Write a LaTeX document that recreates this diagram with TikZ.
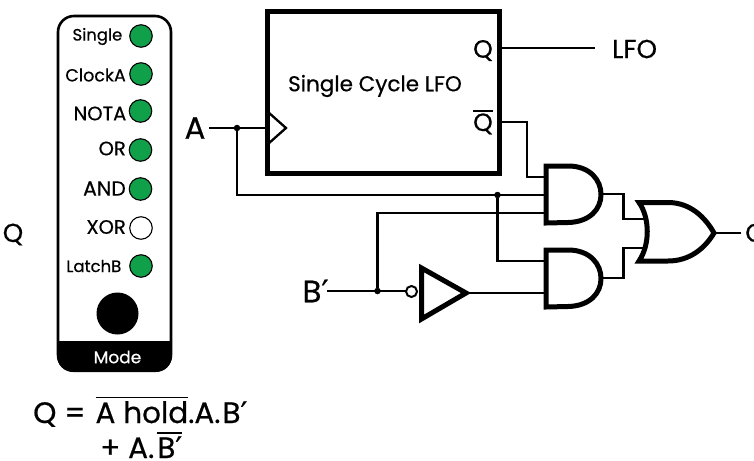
\documentclass[tikz,border=0pt]{standalone}
\usepackage{fontspec}
\setmainfont{Poppins}[FakeBold=0.5]
\newfontfamily\primefont{DejaVu Sans}[FakeBold=0.8]
\newcommand{\prm}{{\primefont ′}}
\newcommand{\fsz}[1]{\fontsize{#1}{#1}\selectfont}
\newcommand{\barred}[2][0pt]{\leavevmode\vbox{\hrule height 1.6pt\kern#1\hbox{#2}}}
\tikzset{
 x=1pt,y=-1pt,
 wire/.style={line width=2.3pt,line join=miter},
 thick gate/.style={line width=5pt,fill=white,line join=miter},
 led/.style={circle,draw=black,line width=1.1pt,minimum size=22.5pt,inner sep=0pt,fill=ledgreen},
 ledoff/.style={led,fill=white},
 ledlabel/.style={anchor=east,inner sep=0pt},
 junction/.style={circle,fill=black,inner sep=0pt,minimum size=6.5pt},
 label/.style={inner sep=0pt,font=\fsz{25}},
}
\definecolor{ledgreen}{RGB}{16,160,74}
\begin{document}
\begin{tikzpicture}
\useasboundingbox (0,0) rectangle (754,460);
% panel
\draw[line width=2.6pt,rounded corners=16pt,fill=white] (58,16) rectangle (171,370.5);
\fill[rounded corners=16pt] (57,341) -- (57,372) -- (172,372) -- (172,341) -- cycle;
\fill (57,341) rectangle (172,355);
\node[inner sep=0pt,text=white,font=\fsz{17}] (mode) at (117.5,357) {Mode};
\node[circle,fill=black,minimum size=42pt,inner sep=0pt] (knob) at (117.5,313.5) {};
\node[led] (l1) at (141,36) {};
\node[led] (l2) at (141,74) {};
\node[led] (l3) at (140.5,111) {};
\node[led] (l4) at (140.5,150) {};
\node[led] (l5) at (140.5,189) {};
\node[ledoff] (l6) at (141,228) {};
\node[led] (l7) at (141,266) {};
\node[ledlabel,font=\fsz{16.5}] (t1) at (122.5,36.5) {Single};
\node[ledlabel,font=\fsz{17.5}] (t2) at (126,75) {ClockA};
\node[ledlabel,font=\fsz{19.5}] (t3) at (126.5,113.5) {NOTA};
\node[ledlabel,font=\fsz{19.5}] (t4) at (126,148.5) {OR};
\node[ledlabel,font=\fsz{20.5}] (t5) at (126,188.5) {AND};
\node[ledlabel,font=\fsz{19.5}] (t6) at (126,227) {XOR};
\node[ledlabel,font=\fsz{16.5}] (t7) at (121.5,266) {LatchB};
% side texts
\node[inner sep=0pt,font=\fsz{26}] (qleft) at (13,234.5) {Q};
\node[inner sep=0pt,anchor=west,font=\fsz{26}] (qright) at (745,234.5) {Q};
% equation
\node[inner sep=0pt,anchor=base west,font=\fsz{29.5}] (eq1) at (33,423) {Q =\kern2pt\ \barred[3pt]{A hold}.A.\kern2pt B\prm};
\node[inner sep=0pt,anchor=base west,font=\fsz{29.5}] (eq2) at (100,458) {+ A.\kern3pt\barred[3pt]{B\prm}};
% block
\draw[line width=5pt,fill=white,line join=miter] (267.5,11.5) rectangle (499.5,173.5);
\coordinate (clk) at (268,128);
\draw[wire] (268,112) -- (286,128) -- (268,144);
\node[inner sep=0pt,font=\fsz{21.5}] (blk) at (375,86) {Single Cycle LFO};
\node[label] (q) at (483,50.5) {Q};
\node[label,anchor=base] (qb) at (483,131) {\barred[1.5pt]{Q}};
\coordinate (qout) at (500,48);
\coordinate (qbout) at (500,122);
\node[inner sep=0pt,anchor=west,font=\fsz{26}] (lfo) at (612,49) {LFO};
\coordinate (lfoend) at (595,48);
\draw[wire] (qout) -- (lfoend);
% inputs
\node[inner sep=0pt,font=\fsz{31}] (a) at (195,128) {A};
\node[inner sep=0pt,font=\fsz{31}] (b) at (315.5,291) {B\prm};
\node[junction] (ja) at (237,128) {};
\node[junction] (jm) at (497.5,195) {};
\node[junction] (jb) at (377.5,291) {};
% gate pins
\coordinate (ain) at (209,128);
\coordinate (bin) at (327,291);
\coordinate (a1i1) at (545,177);
\coordinate (a1i2) at (545,195);
\coordinate (a1i3) at (545,213);
\coordinate (a2i1) at (545,261);
\coordinate (a2i2) at (545,293);
\coordinate (a1o) at (601,194);
\coordinate (a2o) at (601,278);
\coordinate (oi1) at (648,219);
\coordinate (oi2) at (648,248);
\coordinate (oo) at (715,233);
\coordinate (oend) at (741,233);
\coordinate (invi) at (406,291);
\coordinate (invo) at (468,293);
% wires
\draw[wire] (ain) -- (clk);
\draw[wire] (ja) |- (a1i2);
\draw[wire] (jm) |- (a2i1);
\draw[wire] (jb) |- (a1i3);
\draw[wire] (bin) -- (invi);
\draw[wire] (invo) -- (a2i2);
\draw[wire] (qbout) -| (527,177) -- (a1i1);
\draw[wire] (a1o) -| (623.5,219) -- (oi1);
\draw[wire] (a2o) -| (623.5,248) -- (oi2);
\draw[wire] (oo) -- (oend);
% gates
\node[circle,draw=black,line width=2pt,fill=white,minimum size=11pt,inner sep=0pt] (bub) at (411.5,291.5) {};
\draw[thick gate] (421.5,268) -- (466,293) -- (421.5,319) -- cycle;
\draw[thick gate] (546,166) -- (568,166) .. controls (590,166) and (601,180) .. (601,194.5) .. controls (601,209) and (590,222) .. (568,222.5) -- (546,223) -- cycle;
\draw[thick gate] (546,250) -- (568,250) .. controls (590,250) and (601,264) .. (601,278.5) .. controls (601,293) and (590,306) .. (568,306.5) -- (546,307) -- cycle;
\draw[thick gate] (639,202.5) -- (668,202.5) .. controls (690,202.5) and (705,217) .. (714,233) .. controls (705,248) and (690,261) .. (668,261) -- (639,261) .. controls (650,245) and (650,218) .. (639,202.5) -- cycle;
\end{tikzpicture}
\end{document}
